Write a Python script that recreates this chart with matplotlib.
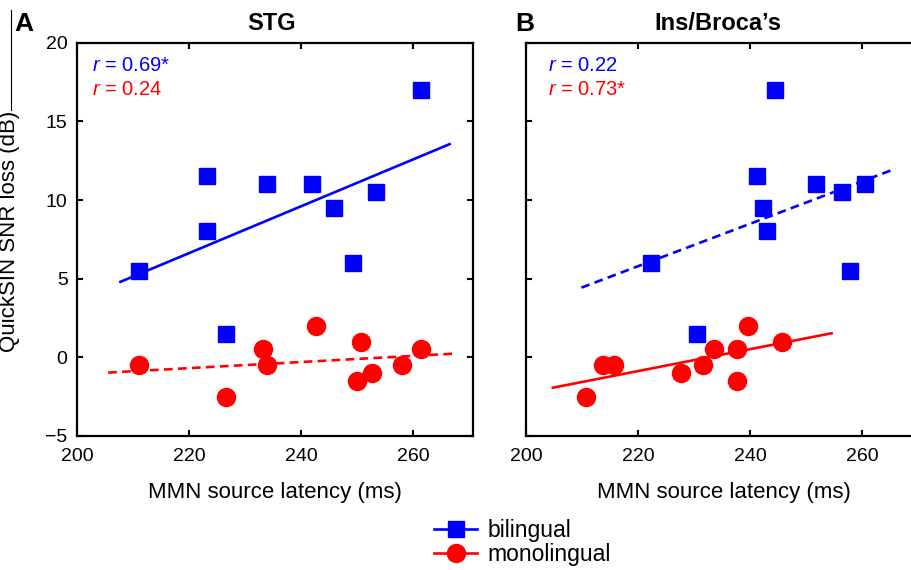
import matplotlib
matplotlib.use('Agg')
import matplotlib.pyplot as plt
from matplotlib.lines import Line2D

plt.rcParams['font.family'] = ['Liberation Sans', 'DejaVu Sans']
plt.rcParams['mathtext.fontset'] = 'custom'
plt.rcParams['mathtext.it'] = 'Liberation Sans:italic'
plt.rcParams['mathtext.rm'] = 'Liberation Sans'

# values
stg_bi_x = [211.0, 223.1, 223.1, 226.5, 233.8, 242.0, 245.9, 249.3, 253.3, 261.4]
stg_bi_y = [5.5, 11.5, 8.0, 1.5, 11.0, 11.0, 9.5, 6.0, 10.5, 17.0]
stg_mono_x = [211.0, 226.5, 233.2, 233.8, 242.6, 250.7, 249.9, 252.7, 258.0, 261.4]
stg_mono_y = [-0.5, -2.5, 0.5, -0.5, 2.0, 1.0, -1.5, -1.0, -0.5, 0.5]

ins_bi_x = [222.3, 230.5, 241.2, 242.4, 243.0, 244.5, 251.8, 256.5, 257.9, 260.5]
ins_bi_y = [6.0, 1.5, 11.5, 9.5, 8.0, 17.0, 11.0, 10.5, 5.5, 11.0]
ins_mono_x = [210.8, 213.7, 215.7, 227.6, 231.7, 233.6, 237.7, 237.7, 239.7, 245.8]
ins_mono_y = [-2.5, -0.5, -0.5, -1.0, -0.5, 0.5, 0.5, -1.5, 2.0, 1.0]

# regression line end points
stg_bi_fit_x = [207.7, 266.5]
stg_bi_fit_y = [4.8, 13.55]
stg_mono_fit_x = [205.5, 267.1]
stg_mono_fit_y = [-0.97, 0.23]
ins_bi_fit_x = [209.9, 266.0]
ins_bi_fit_y = [4.43, 11.99]
ins_mono_fit_x = [204.8, 254.6]
ins_mono_fit_y = [-1.93, 1.53]

panel_titles = ['STG', 'Ins/Broca\u2019s']
panel_letters = ['A', 'B']
r_bi = ['0.69*', '0.22']
r_mono = ['0.24', '0.73*']
x_ticks = [200, 220, 240, 260]
y_ticks = [-5, 0, 5, 10, 15, 20]

BLUE = '#0000ff'
RED = '#ff0000'
dashed = (0, (3.3, 2))

fig = plt.figure(figsize=(9.11, 5.70), dpi=100)
ax_a = fig.add_axes([0.0849, 0.2351, 0.4344, 0.69])
ax_b = fig.add_axes([0.5774, 0.2351, 0.4344, 0.69])

panels = [
    (ax_a, stg_bi_x, stg_bi_y, stg_mono_x, stg_mono_y,
     stg_bi_fit_x, stg_bi_fit_y, stg_mono_fit_x, stg_mono_fit_y, '-', dashed),
    (ax_b, ins_bi_x, ins_bi_y, ins_mono_x, ins_mono_y,
     ins_bi_fit_x, ins_bi_fit_y, ins_mono_fit_x, ins_mono_fit_y, dashed, '-'),
]

for i, (ax, bx, by, mx, my, bfx, bfy, mfx, mfy, bls, mls) in enumerate(panels):
    ax.plot(bfx, bfy, color=BLUE, lw=1.9, ls=bls, zorder=2)
    ax.plot(mfx, mfy, color=RED, lw=1.9, ls=mls, zorder=2)
    ax.plot(bx, by, ls='none', marker='s', ms=11.5, color=BLUE, mec=BLUE, zorder=3)
    ax.plot(mx, my, ls='none', marker='o', ms=13, color=RED, mec=RED, zorder=3)

    ax.set_xlim(200, 270.7)
    ax.set_ylim(-5, 20)
    ax.set_xticks(x_ticks)
    ax.set_yticks(y_ticks)
    ax.tick_params(direction='in', length=4, width=1.5, top=True, right=True,
                   labelsize=14, pad=7)
    ax.tick_params(axis='x', pad=9)
    for sp in ax.spines.values():
        sp.set_linewidth(1.6)
    ax.set_xlabel('MMN source latency (ms)', fontsize=16, labelpad=12)

    ax.text(0.49 if i == 0 else 0.485, 1.05, panel_titles[i], transform=ax.transAxes,
            ha='center', va='center', fontsize=17, fontweight='bold')
    tx = 0.036 if i == 0 else 0.056
    ax.text(tx, 0.9415, f'$r$ = {r_bi[i]}', transform=ax.transAxes, color=BLUE,
            fontsize=14.5, va='center', ha='left')
    ax.text(tx, 0.882, f'$r$ = {r_mono[i]}', transform=ax.transAxes, color=RED,
            fontsize=14.5, va='center', ha='left')

ax_a.set_ylabel('QuickSIN SNR loss (dB)', fontsize=16, labelpad=8)
ax_a.yaxis.set_label_coords(-0.145, 0.52)
ax_b.tick_params(labelleft=False)

fig.text(0.0154, 0.958, 'A', fontsize=19, fontweight='bold', ha='left', va='center')
fig.text(0.5653, 0.958, 'B', fontsize=19, fontweight='bold', ha='left', va='center')

# thin rule at the top left edge of the reference
fig.add_artist(Line2D([0.0126, 0.0126], [1 - 10 / 570, 1 - 110 / 570],
                      color='black', lw=0.8))

handles = [
    Line2D([], [], color=BLUE, lw=1.9, marker='s', ms=11.5),
    Line2D([], [], color=RED, lw=1.9, marker='o', ms=13),
]
fig.legend(handles, ['bilingual', 'monolingual'], loc='center',
           bbox_to_anchor=(0.5735, 0.048), frameon=False, fontsize=16.5,
           handlelength=1.9, handletextpad=0.45, labelspacing=0.05, borderpad=0)

fig.savefig('out.png', dpi=100)
